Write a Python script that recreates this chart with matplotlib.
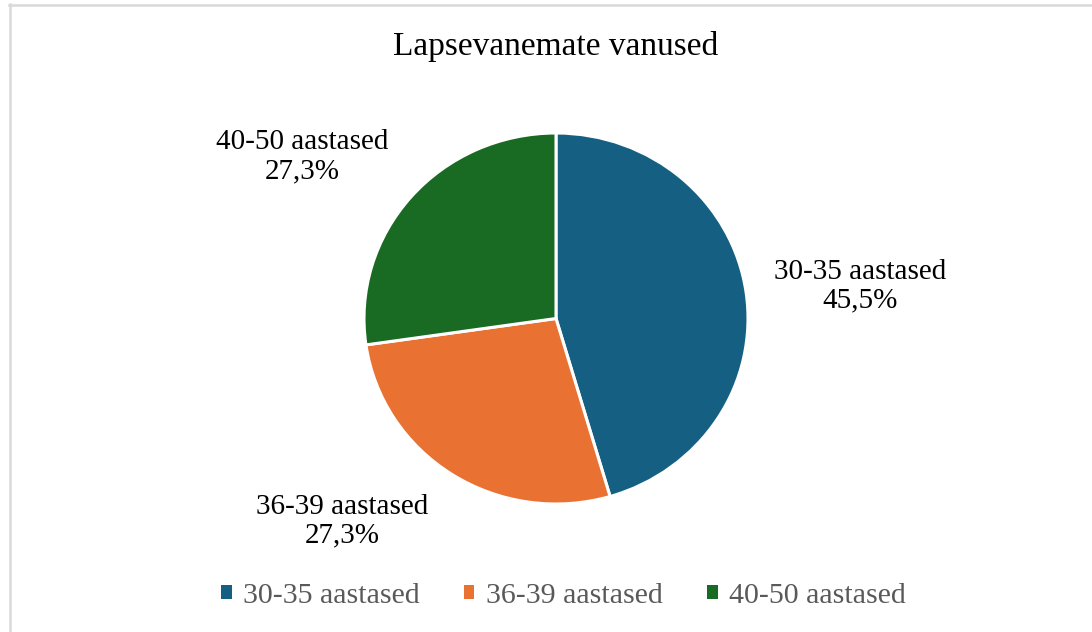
import matplotlib
matplotlib.use("Agg")
import matplotlib.pyplot as plt
from matplotlib.lines import Line2D
from matplotlib.patches import Patch

categories = ["30-35 aastased", "36-39 aastased", "40-50 aastased"]
values = [5, 3, 3]
colors = ["#156082", "#E97132", "#196B24"]
title = "Lapsevanemate vanused"

plt.rcParams['font.family'] = ['Liberation Serif', 'DejaVu Serif']

W, H = 1092, 632
fig = plt.figure(figsize=(W / 100, H / 100), dpi=100)

# frame (top and left border visible)
fig.add_artist(Line2D([9.5 / W, 9.5 / W], [0, 1 - 4 / H], transform=fig.transFigure, color="#d9d9d9", lw=1.8))
fig.add_artist(Line2D([9 / W, 1], [1 - 4.5 / H, 1 - 4.5 / H], transform=fig.transFigure, color="#d9d9d9", lw=1.8))

cx, cy, rx, ry = 556, 318.5, 192, 185.5
ax = fig.add_axes([(cx - rx) / W, (H - cy - ry) / H, 2 * rx / W, 2 * ry / H])

total = sum(values)
ax.pie(values, colors=colors, startangle=90, counterclock=False, radius=1,
       wedgeprops=dict(edgecolor="white", linewidth=2.2))
ax.set_aspect("auto")
ax.set_xlim(-1, 1)
ax.set_ylim(-1, 1)
ax.axis("off")

label_pos = [(1.583, 0.175), (-1.115, -1.092), (-1.323, 0.871)]
for cat, v, (x, y) in zip(categories, values, label_pos):
    pct = f"{100 * v / total:.1f}".replace(".", ",") + "%"
    ax.text(x, y, f"{cat}\n{pct}", ha="center", va="center", fontsize=21,
            color="#000000", linespacing=1.15, clip_on=False)

fig.text(cx / W, 1 - 46 / H, title, ha="center", va="center", fontsize=24, color="#000000")

handles = [Patch(facecolor=c, edgecolor="none") for c in colors]
fig.legend(handles, categories, loc="center", bbox_to_anchor=(563.5 / W, 1 - 596 / H),
           ncol=3, frameon=False, fontsize=21.5, handlelength=0.34, handleheight=0.34,
           handletextpad=0.38, columnspacing=1.5, labelcolor="#595959")

fig.savefig("out.png", dpi=100, facecolor="white")
